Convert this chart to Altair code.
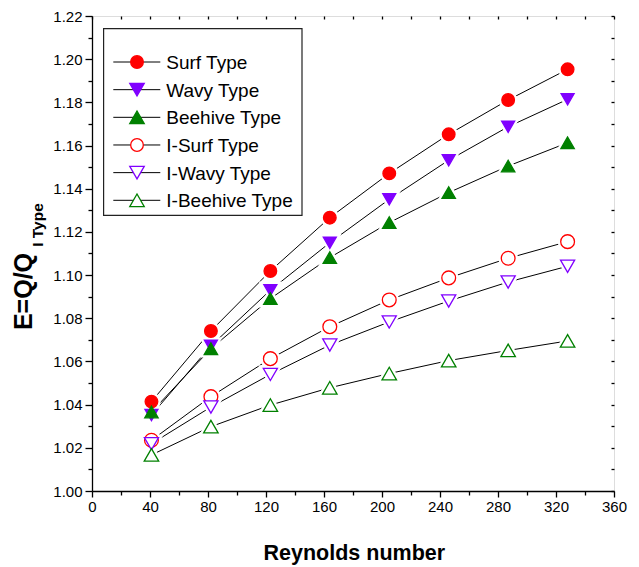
import altair as alt
import pandas as pd

# ---------------- data ----------------
reynolds = [41, 82, 123, 164, 205, 246, 287, 328]
series_names = ["Surf Type", "Wavy Type", "Beehive Type",
                "I-Surf Type", "I-Wavy Type", "I-Beehive Type"]
surf      = [1.0414, 1.0741, 1.1019, 1.1266, 1.1471, 1.1652, 1.1811, 1.1953]
wavy      = [1.0352, 1.0672, 1.0930, 1.1150, 1.1351, 1.1532, 1.1687, 1.1814]
beehive   = [1.0366, 1.0659, 1.0891, 1.1081, 1.1243, 1.1382, 1.1505, 1.1613]
i_surf    = [1.0235, 1.0437, 1.0613, 1.0761, 1.0885, 1.0987, 1.1078, 1.1155]
i_wavy    = [1.0219, 1.0389, 1.0540, 1.0676, 1.0783, 1.0880, 1.0968, 1.1041]
i_beehive = [1.0167, 1.0298, 1.0398, 1.0478, 1.0544, 1.0604, 1.0651, 1.0695]
series_values = [surf, wavy, beehive, i_surf, i_wavy, i_beehive]

x_major = [0, 40, 80, 120, 160, 200, 240, 280, 320, 360]
x_minor = [20, 60, 100, 140, 180, 220, 260, 300, 340]
x_top = [0, 20, 40, 60, 80, 100, 120, 140, 160, 180, 200, 220, 240, 260, 280, 300, 320, 340, 360]
y_major = [1.00, 1.02, 1.04, 1.06, 1.08, 1.10, 1.12, 1.14, 1.16, 1.18, 1.20, 1.22]
y_minor = [1.01, 1.03, 1.05, 1.07, 1.09, 1.11, 1.13, 1.15, 1.17, 1.19, 1.21]
y_right = [1.00, 1.01, 1.02, 1.03, 1.04, 1.05, 1.06, 1.07, 1.08, 1.09, 1.10, 1.11,
           1.12, 1.13, 1.14, 1.15, 1.16, 1.17, 1.18, 1.19, 1.20, 1.21, 1.22]

x_title = "Reynolds number"
y_title_main = "E=Q/Q"
y_title_sub = "I Type"

# ---------------- styles ----------------
strokes = ["#FF0000", "#8000FF", "#008000", "#FF0000", "#8000FF", "#008000"]
fills = ["#FF0000", "#8000FF", "#008000", "#FFFFFF", "#FFFFFF", "#FFFFFF"]
shapes = ["circle", "triangle-down", "triangle-up", "circle", "triangle-down", "triangle-up"]
sizes = [160, 210, 210, 160, 210, 210]

FONT = "Liberation Sans"

rows = []
for name, vals in zip(series_names, series_values):
    for re_, v in zip(reynolds, vals):
        rows.append({"series": name, "Re": re_, "E": v})
df = pd.DataFrame(rows)

xscale = alt.Scale(domain=[0, 360], nice=False, zero=False)
yscale = alt.Scale(domain=[1.0, 1.22], nice=False, zero=False)

base = alt.Chart(df)

common_axis = dict(grid=False, domainColor="black", tickColor="black",
                   domainWidth=1.3, tickWidth=1.3, labelColor="black",
                   labelFont=FONT, labelFontSize=15, title=None)

x_axis_major = alt.Axis(values=x_major, tickSize=6, labelPadding=2, labelFlush=False,
                        orient="bottom", **common_axis)
y_axis_major = alt.Axis(values=y_major, format=".2f", tickSize=7, labelPadding=3,
                        orient="left", **common_axis)
x_axis_minor = alt.Axis(values=x_minor, tickSize=4, labels=False, domain=False,
                        orient="bottom", **common_axis)
y_axis_minor = alt.Axis(values=y_minor, tickSize=4, labels=False, domain=False,
                        orient="left", **common_axis)
x_axis_top = alt.Axis(values=x_top, tickSize=3, labels=False, domain=False,
                      orient="top", offset=-3, **common_axis)
y_axis_right = alt.Axis(values=y_right, tickSize=3, labels=False, domain=False,
                        orient="right", offset=-3, **common_axis)

shape_enc = alt.Shape("series:N", scale=alt.Scale(domain=series_names, range=shapes), legend=None)
size_enc = alt.Size("series:N", scale=alt.Scale(domain=series_names, range=sizes), legend=None)

lines = base.mark_line(color="black", strokeWidth=1).encode(
    x=alt.X("Re:Q", scale=xscale, axis=x_axis_major),
    y=alt.Y("E:Q", scale=yscale, axis=y_axis_major),
    detail="series:N",
    order="Re:Q",
)

halo = base.mark_point(filled=True, fill="white", stroke="white", strokeWidth=6, opacity=1).encode(
    x=alt.X("Re:Q", scale=xscale, axis=x_axis_minor),
    y=alt.Y("E:Q", scale=yscale, axis=y_axis_minor),
    shape=shape_enc,
    size=size_enc,
)

markers = base.mark_point(filled=True, opacity=1, strokeWidth=1.3).encode(
    x=alt.X("Re:Q", scale=xscale, axis=x_axis_top),
    y=alt.Y("E:Q", scale=yscale, axis=y_axis_right),
    shape=shape_enc,
    size=size_enc,
    fill=alt.Fill("series:N", scale=alt.Scale(domain=series_names, range=fills), legend=None),
    stroke=alt.Stroke("series:N", scale=alt.Scale(domain=series_names, range=strokes), legend=None),
)

one = pd.DataFrame({"k": [0]})

layers = [lines, halo, markers]
# legend box
layers.append(
    alt.Chart(one).mark_rect(fill="white", stroke="#222222", strokeWidth=1.2).encode(
        x=alt.value(11.6), x2=alt.value(210), y=alt.value(12.6), y2=alt.value(199.3)
    )
)
for i, name in enumerate(series_names):
    yy = 46 + 27.66 * i
    d1 = pd.DataFrame({"name": [name]})
    layers.append(
        alt.Chart(d1).mark_rule(color="black", strokeWidth=1).encode(
            x=alt.value(21.3), x2=alt.value(68.3), y=alt.value(yy)
        )
    )
    layers.append(
        alt.Chart(d1).mark_point(filled=True, opacity=1, strokeWidth=1.3, shape=shapes[i],
                                 fill=fills[i], stroke=strokes[i], size=sizes[i]).encode(
            x=alt.value(45), y=alt.value(yy)
        )
    )
    layers.append(
        alt.Chart(d1).mark_text(align="left", baseline="alphabetic", font=FONT,
                                fontSize=19, color="black").encode(
            x=alt.value(74.3), y=alt.value(yy + 7), text="name:N"
        )
    )

# axis titles
layers.append(
    alt.Chart(pd.DataFrame({"t": [x_title]})).mark_text(
        align="center", baseline="alphabetic", font=FONT, fontSize=21.5,
        fontWeight="bold", color="black").encode(
        x=alt.value(262.3), y=alt.value(544.3), text="t:N")
)
layers.append(
    alt.Chart(pd.DataFrame({"t": [y_title_main]})).mark_text(
        align="center", baseline="alphabetic", font=FONT, fontSize=25, angle=270,
        fontWeight="bold", color="black").encode(
        x=alt.value(-60), y=alt.value(275.5), text="t:N")
)
layers.append(
    alt.Chart(pd.DataFrame({"t": [y_title_sub]})).mark_text(
        align="center", baseline="alphabetic", font=FONT, fontSize=15.5, angle=270,
        fontWeight="bold", color="black").encode(
        x=alt.value(-49), y=alt.value(209), text="t:N")
)

chart = alt.layer(*layers).resolve_axis(x="independent", y="independent").properties(
    width=522, height=475,
    padding={"left": 92, "top": 16, "right": 25, "bottom": 76},
    autosize=alt.AutoSizeParams(type="none"),
).configure_view(stroke="black", strokeWidth=1.3).configure(background="white")

chart.save("out.html", embed_options={"renderer": "svg", "actions": False})
